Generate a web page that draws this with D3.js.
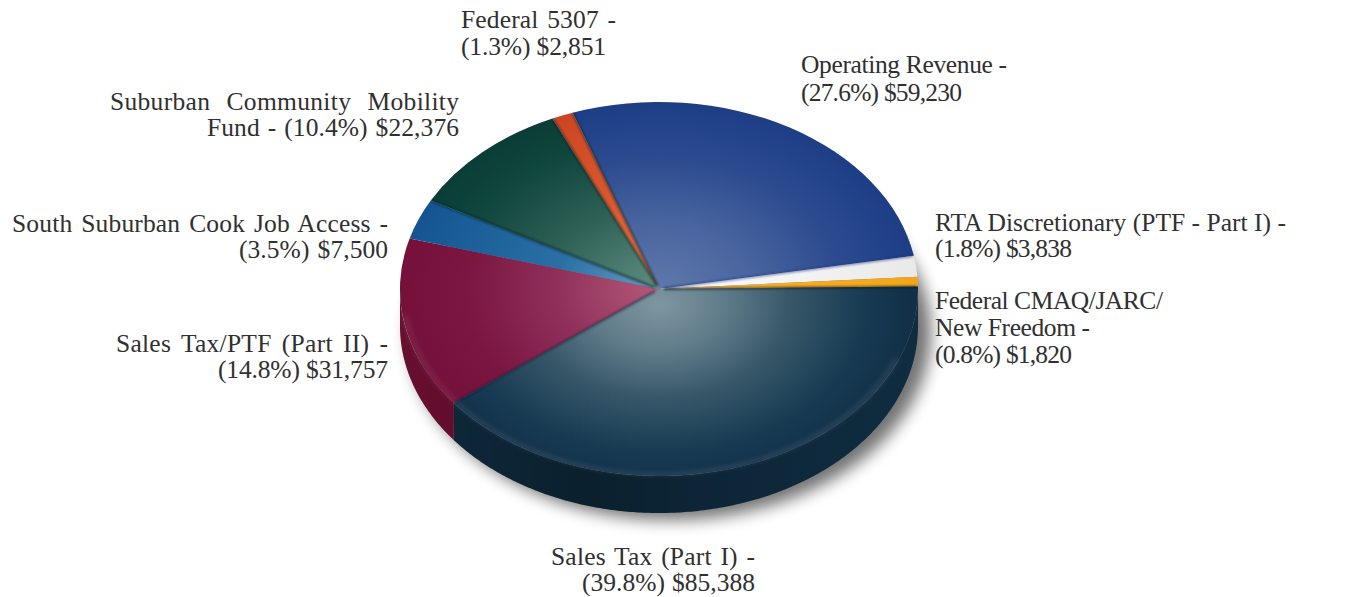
<!DOCTYPE html>
<html><head><meta charset="utf-8">
<script src="https://cdn.jsdelivr.net/npm/d3@7"></script>
<style>html,body{margin:0;background:#fff;overflow:hidden}svg{display:block}
text{font-family:"Liberation Serif",serif;font-size:25.5px;fill:#303030}</style></head><body>
<script>
const categories=["Operating Revenue","RTA Discretionary (PTF - Part I)","Federal CMAQ/JARC/New Freedom","Sales Tax (Part I)","Sales Tax/PTF (Part II)","South Suburban Cook Job Access","Suburban Community Mobility Fund","Federal 5307"];
const values=[59230,3838,1820,85388,31757,7500,22376,2851];
const labelLines=[
 ["Operating Revenue -","(27.6%) $59,230"],
 ["RTA Discretionary (PTF - Part I) -","(1.8%) $3,838"],
 ["Federal CMAQ/JARC/","New Freedom -","(0.8%) $1,820"],
 ["Sales Tax (Part I) -","(39.8%) $85,388"],
 ["Sales Tax/PTF (Part II) -","(14.8%) $31,757"],
 ["South Suburban Cook Job Access -","(3.5%) $7,500"],
 ["Suburban Community Mobility","Fund - (10.4%) $22,376"],
 ["Federal 5307 -","(1.3%) $2,851"]];
const colorStops=[
 [["0","#5f79ab"],[".35","#4a659f"],[".7","#2c4b8f"],["1","#1d3d85"]],
 [["0","#ffffff"],["1","#e9e9e9"]],
 [["0","#f9c566"],[".5","#f5ad24"],["1","#f2a51a"]],
 [["0","#7e96a0"],[".25","#607c8a"],[".5","#385869"],[".8","#173a52"],["1","#112f47"]],
 [["0","#b35a7b"],[".4","#90305a"],[".75","#7a1640"],["1","#74103a"]],
 [["0","#6a9cc0"],[".4","#2a70a5"],["1","#145591"]],
 [["0","#5f8f82"],[".45","#2f6055"],[".8","#0f463d"],["1","#0a3d37"]],
 [["0","#e2794f"],[".5","#d9592f"],["1","#cc4522"]]];
const wallColors=["#16306c","#c9c9c9","#c98612","#0f2c40","#6e0f32","#0f4270","#082f2b","#a2361a"];
const seamColors=["#06251f","#1a3580",null,"#050f18","#0b2a38",null,"#04201f","#04201f"];
// x0,x1,baseline of every text line, in the order of labelLines
const labelBoxes=[
 [[801,1007,73],[801,962,101]],
 [[935,1286,231],[935,1072,257]],
 [[935,1163,309],[935,1090,336],[935,1072,363]],
 [[551,755,565],[582,755,591]],
 [[116,388,352],[218,388,378]],
 [[12,388,232],[239,388,258]],
 [[110,459,110],[207,459,136]],
 [[461,616,28],[461,606,55]]];
const W=1346,H=597,cx=659,cy=289,rx=259,ry=187,depth=37,R=100;
const rad=d=>d*Math.PI/180;
const startA=rad(-19.5);
const pie=d3.pie().sort(null).startAngle(startA).endAngle(startA+2*Math.PI);
const arcs=pie(values);
const arc=d3.arc().innerRadius(0).outerRadius(R);

const svg=d3.select("body").append("svg").attr("width",W).attr("height",H);
const defs=svg.append("defs");
const blur=(id,s)=>defs.append("filter").attr("id",id).attr("x","-20%").attr("y","-20%").attr("width","140%").attr("height","140%")
 .append("feGaussianBlur").attr("stdDeviation",s);
blur("soft",8);blur("rim",1.2);blur("edge",1.0);
arcs.forEach((a,i)=>{
 const g=defs.append("radialGradient").attr("id","top"+i).attr("gradientUnits","userSpaceOnUse")
   .attr("cx",0).attr("cy",i===3?8:0).attr("r",R);
 colorStops[i].forEach(s=>g.append("stop").attr("offset",s[0]).attr("stop-color",s[1]));
});
const wg=defs.append("linearGradient").attr("id","wallShade").attr("gradientUnits","userSpaceOnUse")
 .attr("x1",cx-rx).attr("x2",cx+rx).attr("y1",0).attr("y2",0);
[[0,.05],[.35,.28],[.7,.1],[1,0]].forEach(s=>wg.append("stop").attr("offset",s[0]).attr("stop-color","#000").attr("stop-opacity",s[1]));

// drop shadow
svg.append("ellipse").attr("cx",cx+11).attr("cy",cy+depth+7).attr("rx",rx+2).attr("ry",ry)
 .attr("fill","#000").attr("opacity",.55).attr("filter","url(#soft)");

// wall of the disc: only the front half of the rim is visible
const wall=d3.area().x(t=>cx+rx*Math.sin(t)).y0(t=>cy-ry*Math.cos(t)).y1(t=>cy-ry*Math.cos(t)+depth);
const wallG=svg.append("g");
arcs.forEach((a,i)=>{
 [0,2*Math.PI].forEach(off=>{
  const lo=Math.max(a.startAngle+off,Math.PI/2),hi=Math.min(a.endAngle+off,1.5*Math.PI);
  if(hi<=lo)return;
  const ts=d3.range(lo,hi,.01).concat([hi]);
  wallG.append("path").attr("d",wall(ts)).attr("fill",wallColors[i]);
  wallG.append("path").attr("d",wall(ts)).attr("fill","url(#wallShade)");
 });
});

// top face
const face=svg.append("g").attr("transform",`translate(${cx},${cy}) scale(${rx/R},${ry/R})`);
face.selectAll("path.slice").data(arcs).join("path").attr("class","slice")
 .attr("d",arc).attr("fill",(d,i)=>`url(#top${i})`);
// dark seams between slices
const seams=svg.append("g").attr("transform",`translate(${cx},${cy})`).attr("filter","url(#edge)");
seams.selectAll("line").data(arcs).join("line")
 .attr("x1",d=>rx*.02*Math.sin(d.startAngle)).attr("y1",d=>-ry*.02*Math.cos(d.startAngle))
 .attr("x2",d=>rx*.995*Math.sin(d.startAngle)).attr("y2",d=>-ry*.995*Math.cos(d.startAngle))
 .attr("stroke",(d,i)=>seamColors[i]||"none").attr("stroke-width",2).attr("stroke-opacity",.6);
// bevel rim on the front edge
const rimArc=d3.arc().innerRadius(98.6).outerRadius(99.6).startAngle(rad(112)).endAngle(rad(262));
face.append("path").attr("d",rimArc()).attr("fill","#ffffff").attr("opacity",.18).attr("filter","url(#rim)");

// labels: spare width goes mostly into the word gaps, the rest into the letters
const lab=svg.append("g");
labelLines.forEach((lines,i)=>{
 lines.forEach((s,j)=>{
  const b=labelBoxes[i][j],target=b[1]-b[0];
  const t=lab.append("text").attr("x",b[0]).attr("y",b[2]).text(s);
  const natural=t.node().getComputedTextLength(),gaps=s.split(" ").length-1;
  const extra=target-natural;
  if(extra>0&&gaps>0)t.style("word-spacing",(.7*extra/gaps)+"px");
  t.attr("textLength",target).attr("lengthAdjust","spacing");
 });
});
</script></body></html>
